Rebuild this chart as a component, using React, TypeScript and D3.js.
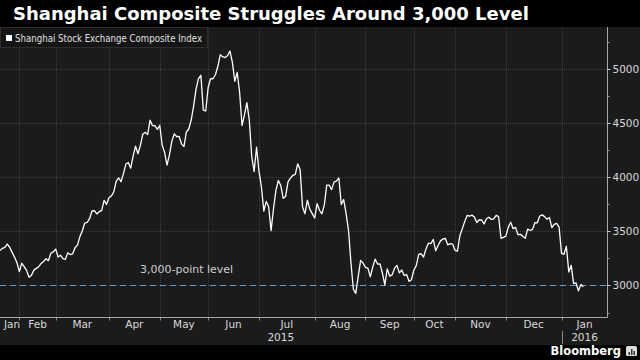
import React, { useEffect, useRef } from "react";
import * as d3 from "d3";

// Daily closes, Shanghai Composite, grouped by month (trading days only)
const jan15 = [3323, 3343, 3352, 3383, 3353, 3306, 3262, 3210];
const feb15 = [3128, 3205, 3174, 3137, 3076, 3095, 3142, 3158, 3173, 3204, 3222, 3247, 3229, 3298, 3310];
const mar15 = [3336, 3263, 3280, 3248, 3241, 3302, 3286, 3291, 3349, 3373, 3449, 3503, 3577, 3582, 3617, 3688, 3691, 3661, 3682, 3691, 3787, 3748];
const apr15 = [3810, 3826, 3864, 3961, 3995, 3958, 4034, 4122, 4136, 4084, 4195, 4287, 4217, 4294, 4398, 4415, 4394, 4527, 4477, 4476, 4442];
const may15 = [4480, 4299, 4229, 4112, 4206, 4334, 4401, 4376, 4378, 4309, 4283, 4418, 4446, 4529, 4658, 4814, 4911, 4942, 4620, 4612];
const jun15 = [4829, 4911, 4910, 4947, 5023, 5132, 5114, 5106, 5122, 5166, 5063, 4887, 4968, 4785, 4478, 4576, 4690, 4528, 4193, 4053, 4277];
const jul15 = [4054, 3913, 3687, 3776, 3727, 3507, 3709, 3878, 3970, 3924, 3806, 3823, 3957, 3992, 4018, 4026, 4124, 4071, 3726, 3663, 3789, 3706, 3664];
const aug15 = [3623, 3757, 3695, 3662, 3744, 3928, 3928, 3886, 3955, 3965, 3994, 3748, 3794, 3664, 3508, 3210, 2965, 2927, 3084, 3232, 3206];
const sep15 = [3167, 3160, 3080, 3170, 3243, 3198, 3200, 3115, 3005, 3152, 3086, 3098, 3157, 3186, 3116, 3143, 3092, 3101, 3038, 3053];
const oct15 = [3143, 3183, 3288, 3293, 3262, 3338, 3391, 3387, 3425, 3321, 3369, 3412, 3430, 3434, 3375, 3387, 3383];
const nov15 = [3325, 3317, 3460, 3523, 3590, 3647, 3640, 3650, 3633, 3581, 3607, 3605, 3568, 3617, 3631, 3610, 3616, 3648, 3636, 3436, 3445];
const dec15 = [3456, 3537, 3585, 3525, 3537, 3470, 3472, 3456, 3435, 3521, 3510, 3516, 3580, 3579, 3642, 3652, 3636, 3612, 3628, 3534, 3564, 3573, 3539];
const jan16 = [3296, 3288, 3362, 3125, 3186, 3017, 3023, 2950, 3008, 2988];

const months = [jan15, feb15, mar15, apr15, may15, jun15, jul15, aug15, sep15, oct15, nov15, dec15, jan16];
const monthLabels = ["Jan", "Feb", "Mar", "Apr", "May", "Jun", "Jul", "Aug", "Sep", "Oct", "Nov", "Dec", "Jan"];
const yearLabels = ["2015", "2016"];
const yTicks = [3000, 3500, 4000, 4500, 5000];
const yMinorTicks = [2750, 3250, 3750, 4250, 4750, 5250];
const levelValue = 3000;

const title = "Shanghai Composite Struggles Around 3,000 Level";
const seriesName = "Shanghai Stock Exchange Composite Index";
const levelLabel = "3,000-point level";

const FONT = "'DejaVu Sans', sans-serif";
const NARROW = "'DejaVu Sans Condensed', 'Liberation Sans Narrow', 'DejaVu Sans', sans-serif";

const App: React.FC = () => {
  const svgRef = useRef<SVGSVGElement | null>(null);

  useEffect(() => {
    if (!svgRef.current) return;
    const svg = d3.select(svgRef.current);
    svg.selectAll("*").remove();

    const width = 640;
    const height = 360;
    const plotRight = 607.5;
    const plotTop = 28;
    const plotBottom = 317.5;

    // flatten the monthly arrays into a day-indexed series
    const data: { i: number; v: number }[] = [];
    const monthStarts: number[] = [];
    months.forEach((m) => {
      monthStarts.push(data.length);
      m.forEach((v) => data.push({ i: data.length, v }));
    });
    const domainEnd = data.length + 9; // axis runs a few sessions past the last close

    const x = d3.scaleLinear().domain([0, domainEnd]).range([0, plotRight]);
    const y = d3.scaleLinear().domain([2704, 5379]).range([plotBottom, plotTop]);
    const crisp = (v: number) => Math.round(v) + 0.5;

    // backgrounds
    svg.append("rect").attr("width", width).attr("height", height).attr("fill", "#000");
    svg.append("rect").attr("x", 0).attr("y", 27).attr("width", width).attr("height", 318).attr("fill", "#1b1b1b");

    // title
    svg
      .append("text")
      .attr("x", 13)
      .attr("y", 20)
      .attr("fill", "#fff")
      .attr("font-family", FONT)
      .attr("font-weight", "bold")
      .attr("font-size", "18px")
      .text(title);

    // horizontal grid
    svg
      .append("g")
      .selectAll("line")
      .data(yTicks)
      .enter()
      .append("line")
      .attr("x1", 0)
      .attr("x2", plotRight)
      .attr("y1", (d) => crisp(y(d)))
      .attr("y2", (d) => crisp(y(d)))
      .attr("stroke", "#3e3e3e")
      .attr("stroke-dasharray", "1,1");

    // vertical grid at month boundaries (skip the first month)
    const bounds = monthStarts.slice(1);
    svg
      .append("g")
      .selectAll("line")
      .data(bounds)
      .enter()
      .append("line")
      .attr("x1", (d) => crisp(x(d)))
      .attr("x2", (d) => crisp(x(d)))
      .attr("y1", plotTop)
      .attr("y2", plotBottom)
      .attr("stroke", "#3e3e3e")
      .attr("stroke-dasharray", "1,1");

    // month tick marks below the axis
    svg
      .append("g")
      .selectAll("line")
      .data(bounds)
      .enter()
      .append("line")
      .attr("x1", (d) => crisp(x(d)))
      .attr("x2", (d) => crisp(x(d)))
      .attr("y1", plotBottom)
      .attr("y2", plotBottom + 3)
      .attr("stroke", "#888");

    // 3,000 level
    svg
      .append("line")
      .attr("x1", 0)
      .attr("x2", plotRight)
      .attr("y1", crisp(y(levelValue)))
      .attr("y2", crisp(y(levelValue)))
      .attr("stroke", "#5a9fe0")
      .attr("stroke-width", 1)
      .attr("stroke-dasharray", "6,4");

    svg
      .append("text")
      .attr("x", 140)
      .attr("y", y(levelValue) - 12)
      .attr("fill", "#cfcfcf")
      .attr("font-family", FONT)
      .attr("font-size", "11px")
      .text(levelLabel);

    // index line
    const line = d3
      .line<{ i: number; v: number }>()
      .x((d) => x(d.i))
      .y((d) => y(d.v));

    svg
      .append("path")
      .datum(data)
      .attr("fill", "none")
      .attr("stroke", "#fff")
      .attr("stroke-width", 1.3)
      .attr("stroke-linejoin", "round")
      .attr("d", line);

    // axes lines
    svg
      .append("line")
      .attr("x1", 0)
      .attr("x2", plotRight)
      .attr("y1", plotBottom)
      .attr("y2", plotBottom)
      .attr("stroke", "#a8a8a8");
    svg
      .append("line")
      .attr("x1", plotRight)
      .attr("x2", plotRight)
      .attr("y1", plotTop - 1)
      .attr("y2", plotBottom)
      .attr("stroke", "#a8a8a8");

    // y ticks and labels
    const yAxis = svg.append("g");
    yAxis
      .selectAll("line.major")
      .data(yTicks)
      .enter()
      .append("line")
      .attr("class", "major")
      .attr("x1", plotRight)
      .attr("x2", plotRight + 3)
      .attr("y1", (d) => crisp(y(d)))
      .attr("y2", (d) => crisp(y(d)))
      .attr("stroke", "#ccc");
    yAxis
      .selectAll("line.minor")
      .data(yMinorTicks)
      .enter()
      .append("line")
      .attr("class", "minor")
      .attr("x1", plotRight)
      .attr("x2", plotRight + 2)
      .attr("y1", (d) => crisp(y(d)))
      .attr("y2", (d) => crisp(y(d)))
      .attr("stroke", "#999");
    yAxis
      .selectAll("text")
      .data(yTicks)
      .enter()
      .append("text")
      .attr("x", plotRight + 5)
      .attr("y", (d) => y(d))
      .attr("dy", "0.36em")
      .attr("fill", "#d8d8d8")
      .attr("font-family", FONT)
      .attr("font-size", "10.5px")
      .text((d) => d.toString());

    // month labels, centred in each month span
    const monthEnds = [...monthStarts.slice(1), domainEnd];
    svg
      .append("g")
      .selectAll("text")
      .data(monthLabels)
      .enter()
      .append("text")
      .attr("x", (_d, k) => Math.max(12, x((monthStarts[k] + monthEnds[k]) / 2)))
      .attr("y", 328)
      .attr("text-anchor", "middle")
      .attr("fill", "#d8d8d8")
      .attr("font-family", FONT)
      .attr("font-size", "10.5px")
      .text((d) => d);

    // year labels and divider
    const yearBreak = monthStarts[12];
    const yearCentres = [x(yearBreak / 2), x((yearBreak + domainEnd) / 2)];
    svg
      .append("g")
      .selectAll("text")
      .data(yearLabels)
      .enter()
      .append("text")
      .attr("x", (_d, k) => yearCentres[k])
      .attr("y", 341)
      .attr("text-anchor", "middle")
      .attr("fill", "#d8d8d8")
      .attr("font-family", FONT)
      .attr("font-size", "10.5px")
      .text((d) => d);
    svg
      .append("line")
      .attr("x1", crisp(x(yearBreak)))
      .attr("x2", crisp(x(yearBreak)))
      .attr("y1", 331)
      .attr("y2", 344)
      .attr("stroke", "#888");

    // legend
    const legend = svg.append("g");
    legend
      .append("rect")
      .attr("x", 0.5)
      .attr("y", 27.5)
      .attr("width", 207)
      .attr("height", 20)
      .attr("fill", "#151515")
      .attr("stroke", "#2e2e2e");
    legend.append("rect").attr("x", 6).attr("y", 35).attr("width", 6).attr("height", 6).attr("fill", "#fff");
    const legendText = legend
      .append("text")
      .attr("x", 15)
      .attr("y", 42)
      .attr("fill", "#e0e0e0")
      .attr("font-family", NARROW)
      .attr("font-size", "10.5px")
      .text(seriesName);
    // keep the label inside its box if the narrow face is wider than expected
    const node = legendText.node() as SVGTextElement | null;
    if (node && node.getComputedTextLength() > 188) {
      legendText.attr("textLength", 187).attr("lengthAdjust", "spacingAndGlyphs");
    }

    // footer
    svg
      .append("text")
      .attr("x", 621)
      .attr("y", 355)
      .attr("text-anchor", "end")
      .attr("fill", "#fff")
      .attr("font-family", FONT)
      .attr("font-weight", "bold")
      .attr("font-size", "11.5px")
      .text("Bloomberg");
    const logo = svg.append("g").attr("transform", "translate(626,346)");
    logo.append("rect").attr("width", 11).attr("height", 10).attr("rx", 1.5).attr("fill", "#ddd");
    logo
      .selectAll("rect.bar")
      .data([3, 6, 4])
      .enter()
      .append("rect")
      .attr("class", "bar")
      .attr("x", (_d, k) => 2.5 + k * 2.5)
      .attr("y", (d) => 9 - d)
      .attr("width", 1.5)
      .attr("height", (d) => d)
      .attr("fill", "#333");
  }, []);

  return (
    <div style={{ position: "fixed", left: 0, top: 0, width: 640, height: 360 }}>
      <svg ref={svgRef} width={640} height={360} style={{ display: "block" }} />
    </div>
  );
};

export default App;
